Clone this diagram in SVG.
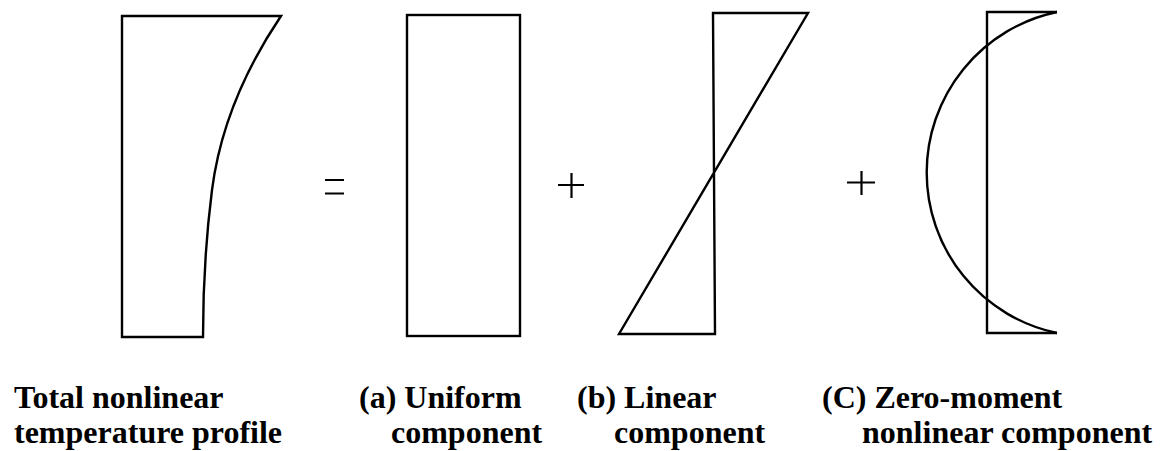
<svg xmlns="http://www.w3.org/2000/svg" width="1163" height="451" viewBox="0 0 1163 451">
<style>
.s{fill:none;stroke:#000;stroke-width:2.4;stroke-linejoin:miter}
.o{fill:none;stroke:#000;stroke-width:2.2}
.t{font-family:"Liberation Serif","Times New Roman",serif;font-weight:bold;font-size:32px;fill:#000}
</style>
<rect width="1163" height="451" fill="#fff"/>
<g id="total">
<path class="s" d="M122,16 L281,16 C250,62 221,120 212,190 C205,245 203,290 203,337 L122,337 Z"/>
</g>
<g id="uniform">
<rect class="s" x="407" y="15" width="113" height="321"/>
</g>
<g id="linear">
<path class="s" d="M713,13 L808,13 L619,334 L715,334 Z"/>
</g>
<g id="zeromoment">
<path class="s" d="M1057,12 L987,12 L987,333 L1057,333"/>
<path class="s" d="M1057,12 A164,164 0 0 0 1057,333"/>
</g>
<g id="operators">
<path class="o" d="M325,180 H344 M325,193.5 H344"/>
<path class="o" d="M571.5,173 V198 M558,185 H584"/>
<path class="o" d="M861.5,171 V195 M847,182.5 H875"/>
</g>
<g id="labels">
<text class="t" x="14" y="408">Total nonlinear</text>
<text class="t" x="14" y="443">temperature profile</text>
<text class="t" x="359" y="408">(a) Uniform</text>
<text class="t" x="391" y="443">component</text>
<text class="t" x="577" y="408">(b) Linear</text>
<text class="t" x="614" y="443">component</text>
<text class="t" x="822" y="408">(C) Zero-moment</text>
<text class="t" x="862" y="443">nonlinear component</text>
</g>
</svg>
